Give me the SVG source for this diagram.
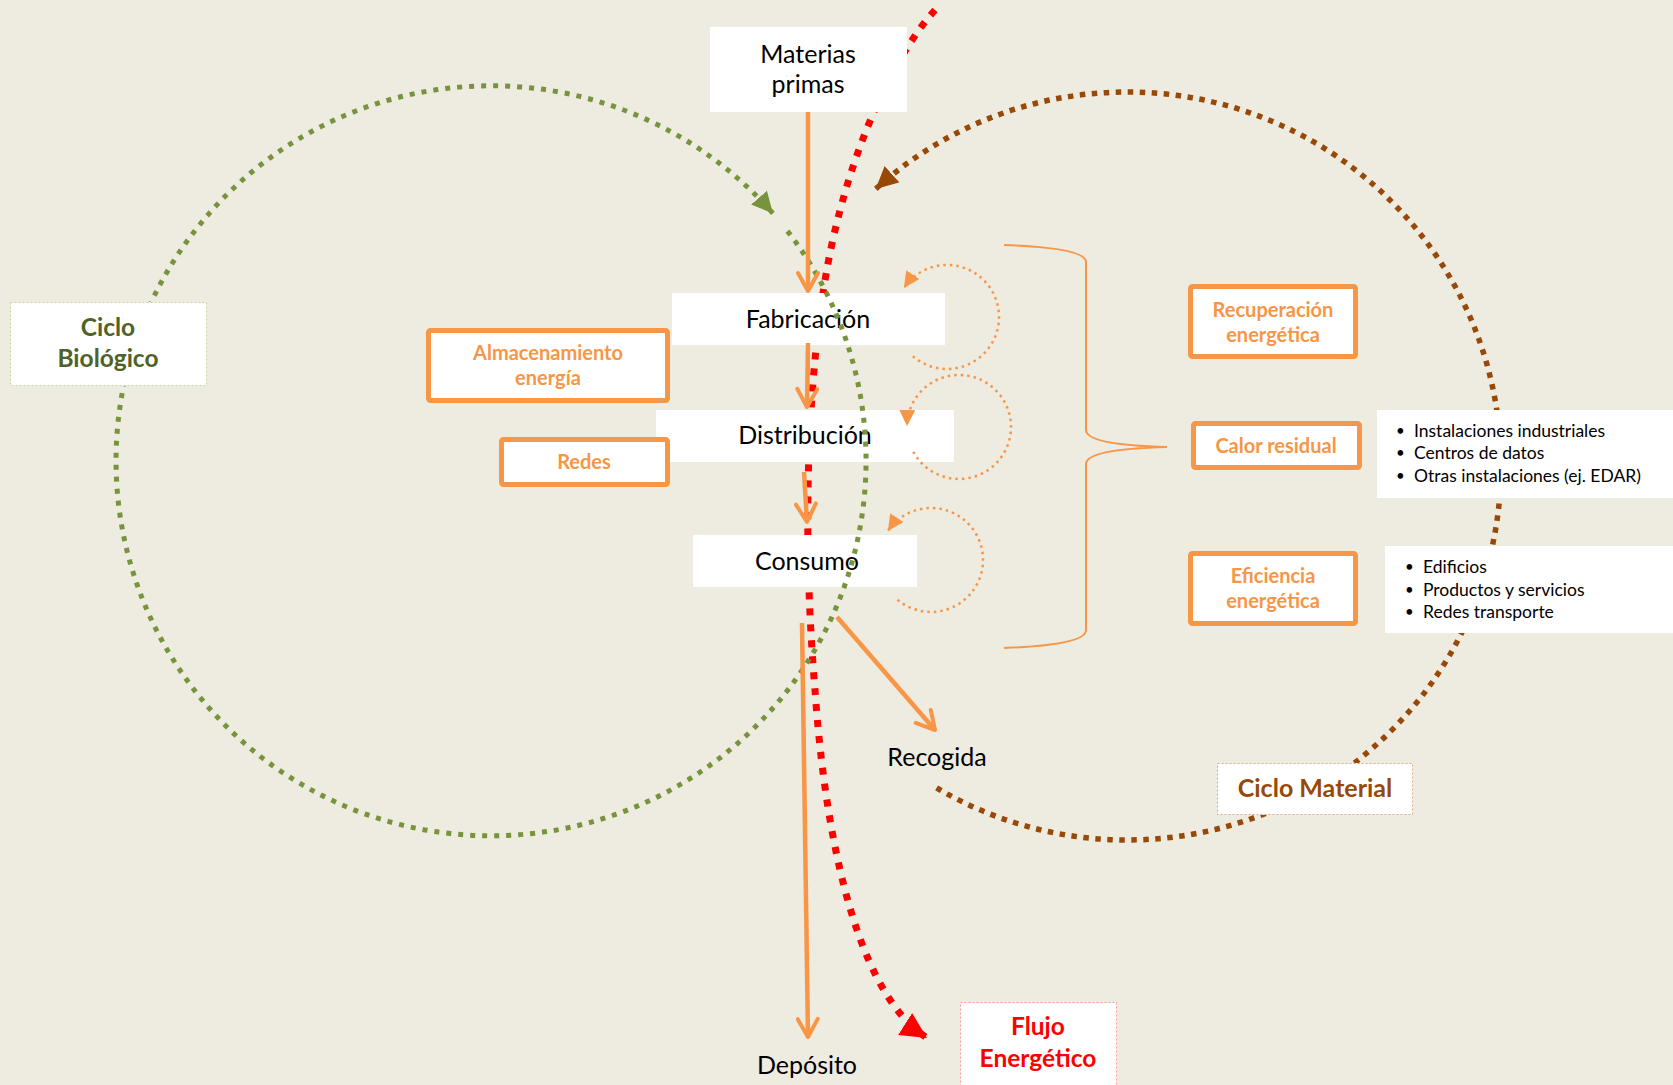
<svg xmlns="http://www.w3.org/2000/svg" width="1673" height="1085" viewBox="0 0 1673 1085">
<style>
text{font-family:Lato,"Open Sans","Liberation Sans",sans-serif}
.main{font-size:25px;fill:#000;text-anchor:middle}
.ob{font-size:20px;font-weight:700;fill:#F79646;text-anchor:middle}
.bul{font-size:17.5px;fill:#000}
.dot{font-size:15px;fill:#000}
.obox{fill:#fff;stroke:#F79646;stroke-width:5}
.wbox{fill:#fff}
.solid{fill:none;stroke:#F79646;stroke-width:4.5;marker-end:url(#openArrow)}
.loop{fill:none;stroke:#F79646;stroke-width:2.5;stroke-dasharray:2.5 4;marker-end:url(#loopArrow)}
</style>
<defs>
<marker id="openArrow" viewBox="0 0 24 24" refX="21" refY="12" markerWidth="24" markerHeight="24" markerUnits="userSpaceOnUse" orient="auto">
<path d="M3,2 L21,12 L3,22" fill="none" stroke="#F79646" stroke-width="4" stroke-linecap="round" stroke-linejoin="round"/>
</marker>
<marker id="loopArrow" viewBox="0 0 10 10" refX="10" refY="5" markerWidth="16" markerHeight="16" markerUnits="userSpaceOnUse" orient="auto">
<path d="M0,0 L10,5 L0,10 z" fill="#F79646"/>
</marker>
<marker id="greenArrow" viewBox="0 0 10 10" refX="10" refY="5" markerWidth="21" markerHeight="21" markerUnits="userSpaceOnUse" orient="auto">
<path d="M0,0 L10,5 L0,10 z" fill="#77933C"/>
</marker>
<marker id="brownArrow" viewBox="0 0 10 10" refX="10" refY="5" markerWidth="22" markerHeight="22" markerUnits="userSpaceOnUse" orient="auto">
<path d="M0,0 L10,5 L0,10 z" fill="#984807"/>
</marker>
<marker id="redArrow" viewBox="0 0 10 10" refX="10" refY="5" markerWidth="26" markerHeight="26" markerUnits="userSpaceOnUse" orient="auto">
<path d="M0,0 L10,5 L0,10 z" fill="#FF0000"/>
</marker>
<mask id="maskRed" maskUnits="userSpaceOnUse" x="0" y="0" width="1673" height="1085">
<rect x="0" y="0" width="1673" height="1085" fill="#fff"/>
<rect x="710" y="27" width="197" height="85" fill="#000"/>
<rect x="672" y="293" width="273" height="52" fill="#000"/>
<rect x="656" y="410" width="298" height="52" fill="#000"/>
<rect x="693" y="535" width="224" height="52" fill="#000"/>
</mask>
<mask id="maskGreen" maskUnits="userSpaceOnUse" x="0" y="0" width="1673" height="1085">
<rect x="0" y="0" width="1673" height="1085" fill="#fff"/>
<rect x="10" y="302" width="197" height="84" fill="#000"/>
</mask>
<mask id="maskBrown" maskUnits="userSpaceOnUse" x="0" y="0" width="1673" height="1085">
<rect x="0" y="0" width="1673" height="1085" fill="#fff"/>
<rect x="1217" y="763" width="196" height="52" fill="#000"/>
<rect x="1377" y="410" width="296" height="88" fill="#000"/>
<rect x="1385" y="546" width="288" height="87" fill="#000"/>
</mask>
</defs>
<rect x="0" y="0" width="1673" height="1085" fill="#EEEBE0"/>

<g id="nodes">
<g id="materias-primas"><rect class="wbox" x="710" y="27" width="197" height="85"/><text class="main" x="808" y="63">Materias</text><text class="main" x="808" y="93">primas</text></g>
<g id="fabricacion"><rect class="wbox" x="672" y="293" width="273" height="52"/><text class="main" x="808" y="328">Fabricación</text></g>
<g id="distribucion"><rect class="wbox" x="656" y="410" width="298" height="52"/><text class="main" x="805" y="444">Distribución</text></g>
<g id="consumo"><rect class="wbox" x="693" y="535" width="224" height="52"/><text class="main" x="807" y="570">Consumo</text></g>
<g id="recogida"><text class="main" x="937" y="766">Recogida</text></g>
<g id="deposito"><text class="main" x="807" y="1074">Depósito</text></g>
<g id="almacenamiento"><rect class="obox" x="428.5" y="330.5" width="239" height="70" rx="2"/><text class="ob" x="548" y="360">Almacenamiento</text><text class="ob" x="548" y="385">energía</text></g>
<g id="redes"><rect class="obox" x="501.5" y="439.5" width="166" height="45" rx="2"/><text class="ob" x="584" y="469">Redes</text></g>
<g id="recuperacion"><rect class="obox" x="1190.5" y="286.5" width="165" height="70" rx="2"/><text class="ob" x="1273" y="317">Recuperación</text><text class="ob" x="1273" y="342">energética</text></g>
<g id="calor-residual"><rect class="obox" x="1193.5" y="423.5" width="166" height="44" rx="2"/><text class="ob" x="1276" y="453">Calor residual</text></g>
<g id="eficiencia"><rect class="obox" x="1190.5" y="553.5" width="165" height="70" rx="2"/><text class="ob" x="1273" y="583">Eficiencia</text><text class="ob" x="1273" y="608">energética</text></g>
<g id="lista-calor"><rect class="wbox" x="1377" y="410" width="296" height="88"/>
<text class="dot" x="1396" y="436">•</text><text class="bul" x="1414" y="437">Instalaciones industriales</text>
<text class="dot" x="1396" y="458">•</text><text class="bul" x="1414" y="459">Centros de datos</text>
<text class="dot" x="1396" y="481">•</text><text class="bul" x="1414" y="482">Otras instalaciones (ej. EDAR)</text></g>
<g id="lista-eficiencia"><rect class="wbox" x="1385" y="546" width="288" height="87"/>
<text class="dot" x="1405" y="572">•</text><text class="bul" x="1423" y="573">Edificios</text>
<text class="dot" x="1405" y="595">•</text><text class="bul" x="1423" y="596">Productos y servicios</text>
<text class="dot" x="1405" y="617">•</text><text class="bul" x="1423" y="618">Redes transporte</text></g>
<g id="ciclo-biologico"><rect x="10.5" y="302.5" width="196" height="83" fill="#fff" stroke="#C3D69B" stroke-width="1" stroke-dasharray="2 2"/><text x="108" y="336" font-size="24.5" font-weight="700" fill="#4F6228" text-anchor="middle">Ciclo</text><text x="108" y="367" font-size="24.5" font-weight="700" fill="#4F6228" text-anchor="middle">Biológico</text></g>
<g id="ciclo-material"><rect x="1217.5" y="763.5" width="195" height="51" fill="#fff" stroke="#D8A98A" stroke-width="1" stroke-dasharray="2 2"/><text x="1315" y="797" font-size="25" font-weight="700" fill="#984807" text-anchor="middle">Ciclo Material</text></g>
<g id="flujo-energetico"><rect x="960.5" y="1002.5" width="156" height="90" fill="#fff" stroke="#FF9999" stroke-width="1" stroke-dasharray="2 2"/><text x="1038" y="1035" font-size="24.5" font-weight="700" fill="#FF0000" text-anchor="middle">Flujo</text><text x="1038" y="1067" font-size="24.5" font-weight="700" fill="#FF0000" text-anchor="middle">Energético</text></g>
</g>

<g id="connectors">
<path d="M935,10 C890,60 840,170 822,300 C805,420 804,560 815,690 C824,820 852,990 927,1038" fill="none" stroke="#FF0000" stroke-width="7" stroke-dasharray="7 9" marker-end="url(#redArrow)" mask="url(#maskRed)"/>
<path d="M787.5,231.1 A375,375 0 1 1 772.9,213.4" fill="none" stroke="#77933C" stroke-width="5" stroke-dasharray="5 7" marker-end="url(#greenArrow)" mask="url(#maskGreen)"/>
<path d="M936.6,787.9 A374,374 0 1 0 875.7,189" fill="none" stroke="#984807" stroke-width="5.5" stroke-dasharray="5.5 6.5" marker-end="url(#brownArrow)" mask="url(#maskBrown)"/>
<path class="solid" d="M808,112 L808,291"/>
<path class="solid" d="M808,343 L807,407"/>
<path class="solid" d="M804,472 L807,522"/>
<path class="solid" d="M802,623 L808,1037"/>
<path class="solid" d="M837,617 L935,730"/>
<path class="loop" d="M912.9,356.2 A52,52 0 1 0 903.9,287.9"/>
<path class="loop" d="M913.3,451.8 A52,52 0 1 0 907,426"/>
<path class="loop" d="M897.6,599.8 A52,52 0 1 0 887.9,530.9"/>
<path d="M1004,245 Q1086,248 1086,262 L1086,430 Q1086,445 1167,447 Q1086,449 1086,464 L1086,630 Q1086,645 1004,648" fill="none" stroke="#F79646" stroke-width="2"/>
</g>
</svg>
